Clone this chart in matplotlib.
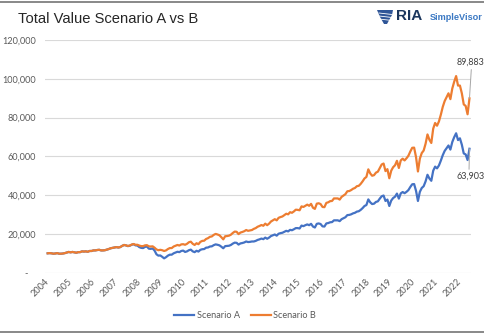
import matplotlib
matplotlib.use("Agg")
import matplotlib.pyplot as plt
from matplotlib.lines import Line2D
from matplotlib.patches import Polygon
import numpy as np

# ---------------- data (values in thousands of dollars, monthly, Jan 2004 - Jun 2022)
years = [str(y) for y in range(2004, 2023)]

scenario_a = [
    10.0, 10.1, 10.0, 9.8, 9.9, 10.1, 9.8, 9.8, 9.9, 10.1, 10.4, 10.7,      # 2004
    10.5, 10.7, 10.5, 10.3, 10.6, 10.6, 11.0, 10.9, 11.0, 10.8, 11.2, 11.2,  # 2005
    11.5, 11.5, 11.7, 11.8, 11.5, 11.5, 11.6, 11.9, 12.2, 12.6, 12.8, 13.0,  # 2006
    13.2, 13.0, 13.2, 13.8, 14.3, 14.1, 13.7, 13.9, 14.4, 14.7, 14.1, 14.0,  # 2007
    13.2, 12.8, 12.7, 13.3, 13.5, 12.4, 12.3, 12.5, 11.4, 9.5, 8.8, 8.9,     # 2008
    8.2, 7.4, 8.0, 8.8, 9.3, 9.3, 10.0, 10.4, 10.8, 10.6, 11.2, 11.4,        # 2009
    10.7, 11.0, 11.6, 11.9, 11.0, 10.6, 11.3, 10.9, 11.8, 12.1, 12.2, 12.9,  # 2010
    13.0, 13.5, 13.6, 14.2, 14.6, 14.4, 14.1, 13.4, 12.6, 13.7, 13.8, 13.9,  # 2011
    14.3, 15.0, 15.5, 15.4, 14.5, 15.1, 15.3, 15.6, 16.1, 15.8, 15.9, 16.1,  # 2012
    16.1, 16.4, 16.9, 17.2, 17.6, 17.3, 18.1, 17.5, 18.1, 18.9, 19.3, 19.7,  # 2013
    19.1, 20.1, 20.4, 20.6, 21.1, 21.6, 21.3, 22.1, 21.9, 22.4, 23.0, 23.0,  # 2014
    22.8, 24.3, 24.0, 24.5, 24.9, 24.5, 25.2, 23.8, 23.3, 25.2, 25.4, 25.1,  # 2015
    23.9, 23.8, 25.4, 25.6, 26.0, 26.1, 27.0, 27.0, 27.0, 26.6, 27.6, 28.1,  # 2016
    28.6, 29.7, 29.8, 30.1, 30.6, 30.9, 31.5, 31.7, 32.4, 33.3, 34.4, 34.9,  # 2017
    37.8, 36.3, 35.4, 35.6, 36.5, 36.8, 38.2, 39.4, 39.8, 37.0, 37.7, 34.4,  # 2018
    37.2, 38.5, 39.2, 40.8, 38.2, 40.9, 41.6, 41.0, 41.7, 42.6, 44.2, 45.6,  # 2019
    45.7, 42.2, 37.0, 41.7, 43.7, 44.6, 47.1, 50.5, 48.6, 47.4, 52.6, 54.7,  # 2020
    53.8, 55.3, 57.8, 60.6, 62.8, 64.2, 65.6, 63.5, 67.4, 69.9, 71.9, 68.4,  # 2021
    69.3, 66.0, 61.5, 61.0, 58.1, 63.903,                                    # 2022
]

scenario_b = [
    10.0, 10.1, 10.0, 9.8, 9.9, 10.1, 9.8, 9.8, 9.9, 10.1, 10.4, 10.7,      # 2004
    10.5, 10.7, 10.5, 10.3, 10.6, 10.6, 11.0, 10.9, 11.0, 10.8, 11.2, 11.2,  # 2005
    11.5, 11.5, 11.7, 11.8, 11.5, 11.5, 11.6, 11.9, 12.2, 12.6, 12.8, 13.0,  # 2006
    13.2, 13.0, 13.2, 13.8, 14.3, 14.1, 13.8, 14.0, 14.5, 14.8, 14.4, 14.4,  # 2007
    14.0, 13.7, 13.7, 14.1, 14.2, 13.6, 13.5, 13.6, 12.9, 12.0, 11.6, 11.8,  # 2008
    11.6, 11.2, 11.5, 12.2, 12.7, 12.7, 13.5, 13.9, 14.3, 14.0, 14.6, 14.7,  # 2009
    14.4, 14.9, 15.7, 16.0, 14.9, 14.3, 15.2, 14.7, 15.9, 16.4, 16.5, 17.4,  # 2010
    17.8, 18.5, 18.7, 19.5, 20.0, 19.7, 19.3, 18.3, 17.2, 18.8, 18.9, 19.1,  # 2011
    19.6, 20.5, 21.2, 21.1, 19.9, 20.7, 21.0, 21.4, 22.0, 21.6, 21.8, 22.0,  # 2012
    22.6, 23.0, 23.7, 24.1, 24.6, 24.2, 25.3, 24.5, 25.3, 26.4, 27.0, 27.6,  # 2013
    27.0, 28.3, 28.7, 29.0, 29.7, 30.4, 30.1, 31.2, 30.9, 31.6, 32.5, 32.4,  # 2014
    32.2, 34.2, 33.9, 34.5, 35.1, 34.5, 35.5, 33.5, 32.9, 35.6, 35.8, 35.4,  # 2015
    33.9, 33.8, 36.0, 36.3, 36.9, 37.0, 38.3, 38.3, 38.3, 37.7, 39.1, 39.8,  # 2016
    40.5, 42.0, 42.1, 42.6, 43.3, 43.7, 44.6, 44.8, 45.8, 47.1, 48.6, 49.4,  # 2017
    53.3, 51.2, 50.0, 50.3, 51.6, 52.1, 54.0, 55.8, 56.3, 52.4, 53.4, 48.7,  # 2018
    52.6, 54.4, 55.4, 57.7, 54.0, 57.9, 58.8, 57.9, 59.0, 60.3, 62.5, 64.4,  # 2019
    64.5, 59.6, 52.2, 58.8, 61.7, 63.0, 66.5, 71.3, 68.6, 66.9, 74.3, 77.2,  # 2020
    75.8, 78.0, 81.5, 85.5, 88.5, 90.5, 92.5, 89.5, 95.0, 98.5, 101.4, 96.5, # 2021
    96.5, 92.5, 86.8, 86.0, 81.7, 89.883,                                    # 2022
]

y_ticks = [0, 20000, 40000, 60000, 80000, 100000, 120000]

# ---------------- figure
W, H = 485, 334
fig = plt.figure(figsize=(W / 100, H / 100), dpi=100)
fig.patch.set_facecolor("white")

def fx(px):
    return px / W

def fy(py):
    return 1 - py / H

ax = fig.add_axes([fx(45), fy(272.7), fx(471) - fx(45), fy(40) - fy(272.7)])

a = np.array(scenario_a) * 1000
b = np.array(scenario_b) * 1000
x = np.arange(len(a))

col_a = "#4472C4"
col_b = "#ED7D31"
ax.plot(x, a, color=col_a, lw=1.6, label="Scenario A", solid_joinstyle="round")
ax.plot(x, b, color=col_b, lw=1.6, label="Scenario B", solid_joinstyle="round")

ax.set_ylim(0, 120000)
ax.set_xlim(-1.4, len(a) - 1 + 0.8)

tick_font = "Lato"
txt_col = "#595959"

ax.set_yticks(y_ticks)
ax.set_yticklabels(["-   " if v == 0 else f"{v:,}" for v in y_ticks],
                   fontsize=6.6, color=txt_col, family=tick_font)
ax.set_xticks(np.arange(0, 12 * len(years), 12))
ax.set_xticklabels(years, rotation=45, ha="right", va="center",
                   rotation_mode="anchor", fontsize=6.6, color=txt_col,
                   family=tick_font)
ax.tick_params(axis="y", length=0, pad=6.5)
ax.tick_params(axis="x", length=0, pad=5.5)

ax.yaxis.grid(True, color="#D9D9D9", lw=0.8)
ax.set_axisbelow(True)
for s in ax.spines.values():
    s.set_visible(False)

# end labels
ax.annotate(f"{scenario_b[-1]*1000:,.0f}", xy=(x[-1], b[-1]),
            xytext=(-9, 26), textcoords="offset points",
            fontsize=6.5, color="#404040", family=tick_font,
            ha="left", va="center", annotation_clip=False,
            arrowprops=dict(arrowstyle="-", color="#A6A6A6", lw=0.7,
                            relpos=(0.52, 0.0), shrinkA=0, shrinkB=0))
ax.annotate(f"{scenario_a[-1]*1000:,.0f}", xy=(x[-1], a[-1]),
            xytext=(-9.5, -20), textcoords="offset points",
            fontsize=6.5, color="#404040", family=tick_font,
            ha="left", va="center", annotation_clip=False,
            arrowprops=dict(arrowstyle="-", color="#A6A6A6", lw=0.7,
                            relpos=(0.45, 1.0), shrinkA=0, shrinkB=0))

# title
fig.text(fx(18), fy(19), "Total Value Scenario A vs B", fontsize=10.6,
         family="Liberation Sans", color="#262626", ha="left", va="center")

# legend
leg = fig.legend(loc="center", bbox_to_anchor=(fx(245), fy(316)), ncol=2,
                 frameon=False, handlelength=2.2,
                 handletextpad=0.25, columnspacing=1.2,
                 prop={"family": tick_font, "size": 6.6})
for t in leg.get_texts():
    t.set_color(txt_col)

# logo
fig.text(fx(396), fy(16.5), "RIA", fontsize=11, fontweight="bold",
         family="Liberation Sans", color="#1B365D", ha="left", va="center")
fig.text(fx(430), fy(17.5), "SimpleVisor", fontsize=6.6, fontweight="bold",
         family="Liberation Sans", color="#3A78C3", ha="left", va="center")
shield = [(377, 10), (393, 10), (392, 15), (387, 24), (384, 24), (380, 17)]
fig.add_artist(Polygon([(fx(px), fy(py)) for px, py in shield], closed=True,
                       facecolor="#2F5597", edgecolor="none",
                       transform=fig.transFigure))
for yy in (13, 16, 19):
    fig.add_artist(Line2D([fx(379), fx(392)], [fy(yy), fy(yy + 1.5)],
                          color="white", lw=0.6, transform=fig.transFigure))

# frame lines top and bottom
for yy in (1.5, 331.5):
    fig.add_artist(Line2D([0, 1], [fy(yy), fy(yy)], color="#7F7F7F", lw=1.3,
                          transform=fig.transFigure))

fig.savefig("out.png", dpi=100, facecolor="white")
